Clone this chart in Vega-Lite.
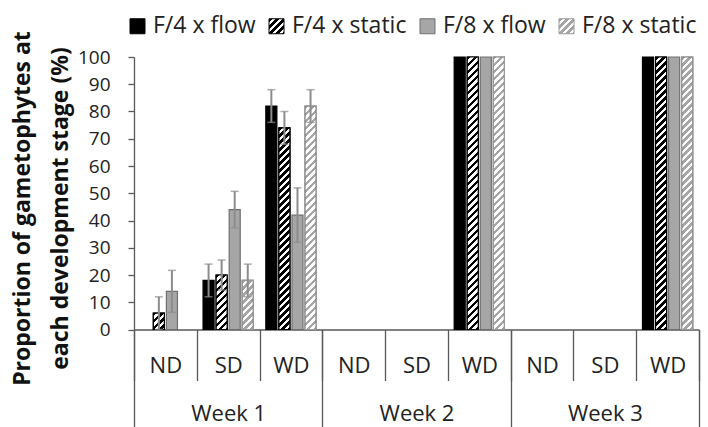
{
  "$schema": "https://vega.github.io/schema/vega-lite/v6.json",
  "width": 565,
  "height": 272.5,
  "autosize": "none",
  "padding": {"left": 134, "top": 57, "right": 9, "bottom": 97.5},
  "background": "white",
  "config": {
    "font": "Open Sans",
    "view": {"stroke": null},
    "axisY": {
      "labelOverlap": false,
      "grid": false,
      "domainColor": "#595959",
      "domainWidth": 1.3,
      "tickColor": "#595959",
      "tickWidth": 1.3,
      "tickSize": 6,
      "labelFontSize": 19,
      "labelPadding": 18,
      "labelColor": "#222222",
      "titleFontSize": 23,
      "titleFontWeight": "bold",
      "titleColor": "#111111",
      "titleAngle": -90,
      "titleAlign": "center",
      "titleBaseline": "middle",
      "titleLineHeight": 38,
      "titleX": -112,
      "titleY": 151
    }
  },
  "params": [
    {
      "name": "hatch",
      "expr": "[{offset:0,color:'#000'},{offset:0.0119,color:'#000'},{offset:0.0119,color:'#fff'},{offset:0.0238,color:'#fff'},{offset:0.0238,color:'#000'},{offset:0.0357,color:'#000'},{offset:0.0357,color:'#fff'},{offset:0.0476,color:'#fff'},{offset:0.0476,color:'#000'},{offset:0.0595,color:'#000'},{offset:0.0595,color:'#fff'},{offset:0.0714,color:'#fff'},{offset:0.0714,color:'#000'},{offset:0.0833,color:'#000'},{offset:0.0833,color:'#fff'},{offset:0.0952,color:'#fff'},{offset:0.0952,color:'#000'},{offset:0.1071,color:'#000'},{offset:0.1071,color:'#fff'},{offset:0.119,color:'#fff'},{offset:0.119,color:'#000'},{offset:0.131,color:'#000'},{offset:0.131,color:'#fff'},{offset:0.1429,color:'#fff'},{offset:0.1429,color:'#000'},{offset:0.1548,color:'#000'},{offset:0.1548,color:'#fff'},{offset:0.1667,color:'#fff'},{offset:0.1667,color:'#000'},{offset:0.1786,color:'#000'},{offset:0.1786,color:'#fff'},{offset:0.1905,color:'#fff'},{offset:0.1905,color:'#000'},{offset:0.2024,color:'#000'},{offset:0.2024,color:'#fff'},{offset:0.2143,color:'#fff'},{offset:0.2143,color:'#000'},{offset:0.2262,color:'#000'},{offset:0.2262,color:'#fff'},{offset:0.2381,color:'#fff'},{offset:0.2381,color:'#000'},{offset:0.25,color:'#000'},{offset:0.25,color:'#fff'},{offset:0.2619,color:'#fff'},{offset:0.2619,color:'#000'},{offset:0.2738,color:'#000'},{offset:0.2738,color:'#fff'},{offset:0.2857,color:'#fff'},{offset:0.2857,color:'#000'},{offset:0.2976,color:'#000'},{offset:0.2976,color:'#fff'},{offset:0.3095,color:'#fff'},{offset:0.3095,color:'#000'},{offset:0.3214,color:'#000'},{offset:0.3214,color:'#fff'},{offset:0.3333,color:'#fff'},{offset:0.3333,color:'#000'},{offset:0.3452,color:'#000'},{offset:0.3452,color:'#fff'},{offset:0.3571,color:'#fff'},{offset:0.3571,color:'#000'},{offset:0.369,color:'#000'},{offset:0.369,color:'#fff'},{offset:0.381,color:'#fff'},{offset:0.381,color:'#000'},{offset:0.3929,color:'#000'},{offset:0.3929,color:'#fff'},{offset:0.4048,color:'#fff'},{offset:0.4048,color:'#000'},{offset:0.4167,color:'#000'},{offset:0.4167,color:'#fff'},{offset:0.4286,color:'#fff'},{offset:0.4286,color:'#000'},{offset:0.4405,color:'#000'},{offset:0.4405,color:'#fff'},{offset:0.4524,color:'#fff'},{offset:0.4524,color:'#000'},{offset:0.4643,color:'#000'},{offset:0.4643,color:'#fff'},{offset:0.4762,color:'#fff'},{offset:0.4762,color:'#000'},{offset:0.4881,color:'#000'},{offset:0.4881,color:'#fff'},{offset:0.5,color:'#fff'},{offset:0.5,color:'#000'},{offset:0.5119,color:'#000'},{offset:0.5119,color:'#fff'},{offset:0.5238,color:'#fff'},{offset:0.5238,color:'#000'},{offset:0.5357,color:'#000'},{offset:0.5357,color:'#fff'},{offset:0.5476,color:'#fff'},{offset:0.5476,color:'#000'},{offset:0.5595,color:'#000'},{offset:0.5595,color:'#fff'},{offset:0.5714,color:'#fff'},{offset:0.5714,color:'#000'},{offset:0.5833,color:'#000'},{offset:0.5833,color:'#fff'},{offset:0.5952,color:'#fff'},{offset:0.5952,color:'#000'},{offset:0.6071,color:'#000'},{offset:0.6071,color:'#fff'},{offset:0.619,color:'#fff'},{offset:0.619,color:'#000'},{offset:0.631,color:'#000'},{offset:0.631,color:'#fff'},{offset:0.6429,color:'#fff'},{offset:0.6429,color:'#000'},{offset:0.6548,color:'#000'},{offset:0.6548,color:'#fff'},{offset:0.6667,color:'#fff'},{offset:0.6667,color:'#000'},{offset:0.6786,color:'#000'},{offset:0.6786,color:'#fff'},{offset:0.6905,color:'#fff'},{offset:0.6905,color:'#000'},{offset:0.7024,color:'#000'},{offset:0.7024,color:'#fff'},{offset:0.7143,color:'#fff'},{offset:0.7143,color:'#000'},{offset:0.7262,color:'#000'},{offset:0.7262,color:'#fff'},{offset:0.7381,color:'#fff'},{offset:0.7381,color:'#000'},{offset:0.75,color:'#000'},{offset:0.75,color:'#fff'},{offset:0.7619,color:'#fff'},{offset:0.7619,color:'#000'},{offset:0.7738,color:'#000'},{offset:0.7738,color:'#fff'},{offset:0.7857,color:'#fff'},{offset:0.7857,color:'#000'},{offset:0.7976,color:'#000'},{offset:0.7976,color:'#fff'},{offset:0.8095,color:'#fff'},{offset:0.8095,color:'#000'},{offset:0.8214,color:'#000'},{offset:0.8214,color:'#fff'},{offset:0.8333,color:'#fff'},{offset:0.8333,color:'#000'},{offset:0.8452,color:'#000'},{offset:0.8452,color:'#fff'},{offset:0.8571,color:'#fff'},{offset:0.8571,color:'#000'},{offset:0.869,color:'#000'},{offset:0.869,color:'#fff'},{offset:0.881,color:'#fff'},{offset:0.881,color:'#000'},{offset:0.8929,color:'#000'},{offset:0.8929,color:'#fff'},{offset:0.9048,color:'#fff'},{offset:0.9048,color:'#000'},{offset:0.9167,color:'#000'},{offset:0.9167,color:'#fff'},{offset:0.9286,color:'#fff'},{offset:0.9286,color:'#000'},{offset:0.9405,color:'#000'},{offset:0.9405,color:'#fff'},{offset:0.9524,color:'#fff'},{offset:0.9524,color:'#000'},{offset:0.9643,color:'#000'},{offset:0.9643,color:'#fff'},{offset:0.9762,color:'#fff'},{offset:0.9762,color:'#000'},{offset:0.9881,color:'#000'},{offset:0.9881,color:'#fff'},{offset:1,color:'#fff'}]"
    }
  ],
  "layer": [
    {
      "data": {
        "values": [
          {"week": "Week 1", "stage": "ND", "series": "F/4 x flow", "value": 0, "err": 0},
          {"week": "Week 1", "stage": "ND", "series": "F/4 x static", "value": 6, "err": 6},
          {"week": "Week 1", "stage": "ND", "series": "F/8 x flow", "value": 14, "err": 7.7},
          {"week": "Week 1", "stage": "ND", "series": "F/8 x static", "value": 0, "err": 0},
          {"week": "Week 1", "stage": "SD", "series": "F/4 x flow", "value": 18, "err": 6},
          {"week": "Week 1", "stage": "SD", "series": "F/4 x static", "value": 20, "err": 5.5},
          {"week": "Week 1", "stage": "SD", "series": "F/8 x flow", "value": 44, "err": 6.7},
          {"week": "Week 1", "stage": "SD", "series": "F/8 x static", "value": 18, "err": 6},
          {"week": "Week 1", "stage": "WD", "series": "F/4 x flow", "value": 82, "err": 6},
          {"week": "Week 1", "stage": "WD", "series": "F/4 x static", "value": 74, "err": 6},
          {"week": "Week 1", "stage": "WD", "series": "F/8 x flow", "value": 42, "err": 10},
          {"week": "Week 1", "stage": "WD", "series": "F/8 x static", "value": 82, "err": 6},
          {"week": "Week 2", "stage": "ND", "series": "F/4 x flow", "value": 0, "err": 0},
          {"week": "Week 2", "stage": "ND", "series": "F/4 x static", "value": 0, "err": 0},
          {"week": "Week 2", "stage": "ND", "series": "F/8 x flow", "value": 0, "err": 0},
          {"week": "Week 2", "stage": "ND", "series": "F/8 x static", "value": 0, "err": 0},
          {"week": "Week 2", "stage": "SD", "series": "F/4 x flow", "value": 0, "err": 0},
          {"week": "Week 2", "stage": "SD", "series": "F/4 x static", "value": 0, "err": 0},
          {"week": "Week 2", "stage": "SD", "series": "F/8 x flow", "value": 0, "err": 0},
          {"week": "Week 2", "stage": "SD", "series": "F/8 x static", "value": 0, "err": 0},
          {"week": "Week 2", "stage": "WD", "series": "F/4 x flow", "value": 100, "err": 0},
          {"week": "Week 2", "stage": "WD", "series": "F/4 x static", "value": 100, "err": 0},
          {"week": "Week 2", "stage": "WD", "series": "F/8 x flow", "value": 100, "err": 0},
          {"week": "Week 2", "stage": "WD", "series": "F/8 x static", "value": 100, "err": 0},
          {"week": "Week 3", "stage": "ND", "series": "F/4 x flow", "value": 0, "err": 0},
          {"week": "Week 3", "stage": "ND", "series": "F/4 x static", "value": 0, "err": 0},
          {"week": "Week 3", "stage": "ND", "series": "F/8 x flow", "value": 0, "err": 0},
          {"week": "Week 3", "stage": "ND", "series": "F/8 x static", "value": 0, "err": 0},
          {"week": "Week 3", "stage": "SD", "series": "F/4 x flow", "value": 0, "err": 0},
          {"week": "Week 3", "stage": "SD", "series": "F/4 x static", "value": 0, "err": 0},
          {"week": "Week 3", "stage": "SD", "series": "F/8 x flow", "value": 0, "err": 0},
          {"week": "Week 3", "stage": "SD", "series": "F/8 x static", "value": 0, "err": 0},
          {"week": "Week 3", "stage": "WD", "series": "F/4 x flow", "value": 100, "err": 0},
          {"week": "Week 3", "stage": "WD", "series": "F/4 x static", "value": 100, "err": 0},
          {"week": "Week 3", "stage": "WD", "series": "F/8 x flow", "value": 100, "err": 0},
          {"week": "Week 3", "stage": "WD", "series": "F/8 x static", "value": 100, "err": 0}
        ]
      },
      "transform": [{"calculate": "datum.week + ' ' + datum.stage", "as": "cat"}],
      "encoding": {
        "x": {
          "field": "cat",
          "type": "nominal",
          "scale": {
            "type": "band",
            "domain": ["Week 1 ND", "Week 1 SD", "Week 1 WD", "Week 2 ND", "Week 2 SD", "Week 2 WD", "Week 3 ND", "Week 3 SD", "Week 3 WD"],
            "paddingInner": 0,
            "paddingOuter": 0
          },
          "axis": {
            "orient": "bottom",
            "title": null,
            "labelExpr": "slice(datum.label, -2)",
            "labelAngle": 0,
            "tickBand": "extent",
            "tickSize": 51,
            "tickColor": "#595959",
            "tickWidth": 1.3,
            "domainColor": "#595959",
            "domainWidth": 1.3,
            "labelFontSize": 22,
            "labelPadding": -25.5,
            "labelColor": "#222222"
          }
        },
        "xOffset": {
          "field": "series",
          "type": "nominal",
          "scale": {
            "domain": ["F/4 x flow", "F/4 x static", "F/8 x flow", "F/8 x static"],
            "paddingInner": 0.154,
            "paddingOuter": 0.48
          }
        }
      },
      "layer": [
        {
          "transform": [{"filter": "datum.value > 0"}],
          "mark": {"type": "bar", "strokeWidth": 1.2},
          "encoding": {
            "y": {
              "field": "value",
              "type": "quantitative",
              "title": ["Proportion of gametophytes at", "each development stage (%)"],
              "scale": {"domain": [0, 100], "nice": false},
              "axis": {"values": [0, 10, 20, 30, 40, 50, 60, 70, 80, 90, 100], "labelOverlap": false}
            },
            "fill": {
              "field": "series",
              "type": "nominal",
              "scale": {
                "domain": ["F/4 x flow", "F/4 x static", "F/8 x flow", "F/8 x static"],
                "range": [
                  "#000000",
                  {"expr": "{gradient: 'linear', x1: 0, y1: 0, x2: 9.8, y2: 9.8, stops: hatch}"},
                  "#a6a6a6",
                  {"expr": "{gradient: 'linear', x1: 0, y1: 0, x2: 9.8, y2: 9.8, stops: [{offset:0,color:'#a6a6a6'},{offset:0.0119,color:'#a6a6a6'},{offset:0.0119,color:'#fff'},{offset:0.0238,color:'#fff'},{offset:0.0238,color:'#a6a6a6'},{offset:0.0357,color:'#a6a6a6'},{offset:0.0357,color:'#fff'},{offset:0.0476,color:'#fff'},{offset:0.0476,color:'#a6a6a6'},{offset:0.0595,color:'#a6a6a6'},{offset:0.0595,color:'#fff'},{offset:0.0714,color:'#fff'},{offset:0.0714,color:'#a6a6a6'},{offset:0.0833,color:'#a6a6a6'},{offset:0.0833,color:'#fff'},{offset:0.0952,color:'#fff'},{offset:0.0952,color:'#a6a6a6'},{offset:0.1071,color:'#a6a6a6'},{offset:0.1071,color:'#fff'},{offset:1,color:'#fff'}]}"}
                ]
              },
              "legend": {
                "title": null,
                "orient": "none",
                "legendX": -8,
                "legendY": -42.5,
                "direction": "horizontal",
                "symbolType": "square",
                "symbolSize": 225,
                "symbolStrokeWidth": 1,
                "labelFontSize": 23,
                "labelColor": "#222222",
                "labelOffset": 4,
                "labelLimit": 200,
                "columnPadding": 9
              }
            },
            "stroke": {
              "field": "series",
              "type": "nominal",
              "scale": {
                "domain": ["F/4 x flow", "F/4 x static", "F/8 x flow", "F/8 x static"],
                "range": ["#000000", "#000000", "#707070", "#999999"]
              },
              "legend": {
                "title": null,
                "orient": "none",
                "legendX": -8,
                "legendY": -42.5,
                "direction": "horizontal",
                "symbolType": "square",
                "symbolSize": 225,
                "symbolStrokeWidth": 1,
                "labelFontSize": 23,
                "labelColor": "#222222",
                "labelOffset": 4,
                "labelLimit": 200,
                "columnPadding": 9
              }
            }
          }
        },
        {
          "transform": [{"filter": "datum.value > 0 && datum.series === 'F/8 x static'"}],
          "mark": {"type": "bar", "fill": "#ffffff", "stroke": "#999999", "strokeWidth": 1.2},
          "encoding": {
            "y": {
              "field": "value",
              "type": "quantitative",
              "title": ["Proportion of gametophytes at", "each development stage (%)"],
              "axis": {"values": [0, 10, 20, 30, 40, 50, 60, 70, 80, 90, 100], "labelOverlap": false}
            }
          }
        },
        {
          "transform": [{"filter": "datum.value > 0 && indexof(datum.series, 'static') >= 0"}],
          "mark": {
            "type": "bar",
            "strokeWidth": 1.2,
            "fill": {"expr": "{gradient: 'linear', x1: 0, y1: 0, x2: 294 * 11 / (121 + pow(scale('y', 0) - scale('y', datum.value), 2)), y2: 294 * (scale('y', 0) - scale('y', datum.value)) / (121 + pow(scale('y', 0) - scale('y', datum.value), 2)), stops: hatch}"},
            "fillOpacity": {"expr": "datum.series === 'F/8 x static' ? 0.35 : 1"},
            "stroke": {"expr": "datum.series === 'F/8 x static' ? '#999999' : '#000000'"}
          },
          "encoding": {
            "y": {
              "field": "value",
              "type": "quantitative",
              "title": ["Proportion of gametophytes at", "each development stage (%)"],
              "axis": {"values": [0, 10, 20, 30, 40, 50, 60, 70, 80, 90, 100], "labelOverlap": false}
            }
          }
        },
        {
          "transform": [
            {"filter": "datum.err > 0"},
            {"calculate": "datum.value - datum.err", "as": "lo"},
            {"calculate": "datum.value + datum.err", "as": "hi"}
          ],
          "layer": [
            {
              "mark": {"type": "rule", "color": "#8c8c8c", "strokeWidth": 2},
              "encoding": {
                "y": {
                  "field": "lo",
                  "type": "quantitative",
                  "title": ["Proportion of gametophytes at", "each development stage (%)"],
                  "axis": {"values": [0, 10, 20, 30, 40, 50, 60, 70, 80, 90, 100], "labelOverlap": false}
                },
                "y2": {"field": "hi"}
              }
            },
            {
              "mark": {"type": "tick", "orient": "horizontal", "color": "#8c8c8c", "size": 8, "thickness": 1.5},
              "encoding": {
                "y": {
                  "field": "hi",
                  "type": "quantitative",
                  "title": ["Proportion of gametophytes at", "each development stage (%)"],
                  "axis": {"values": [0, 10, 20, 30, 40, 50, 60, 70, 80, 90, 100], "labelOverlap": false}
                }
              }
            },
            {
              "mark": {"type": "tick", "orient": "horizontal", "color": "#8c8c8c", "size": 8, "thickness": 1.5},
              "encoding": {
                "y": {
                  "field": "lo",
                  "type": "quantitative",
                  "title": ["Proportion of gametophytes at", "each development stage (%)"],
                  "axis": {"values": [0, 10, 20, 30, 40, 50, 60, 70, 80, 90, 100], "labelOverlap": false}
                }
              }
            }
          ]
        }
      ]
    },
    {
      "data": {"values": [{"week": "Week 1"}, {"week": "Week 2"}, {"week": "Week 3"}]},
      "mark": {"type": "point", "opacity": 0},
      "encoding": {
        "x": {
          "field": "week",
          "type": "nominal",
          "scale": {"type": "band", "paddingInner": 0, "paddingOuter": 0},
          "axis": {
            "orient": "bottom",
            "title": null,
            "labelAngle": 0,
            "tickBand": "extent",
            "tickSize": 98,
            "tickColor": "#595959",
            "tickWidth": 1.3,
            "domain": false,
            "labelFontSize": 22,
            "labelPadding": -24,
            "labelColor": "#222222"
          }
        }
      }
    }
  ],
  "resolve": {"scale": {"x": "independent"}, "axis": {"x": "independent"}}
}
